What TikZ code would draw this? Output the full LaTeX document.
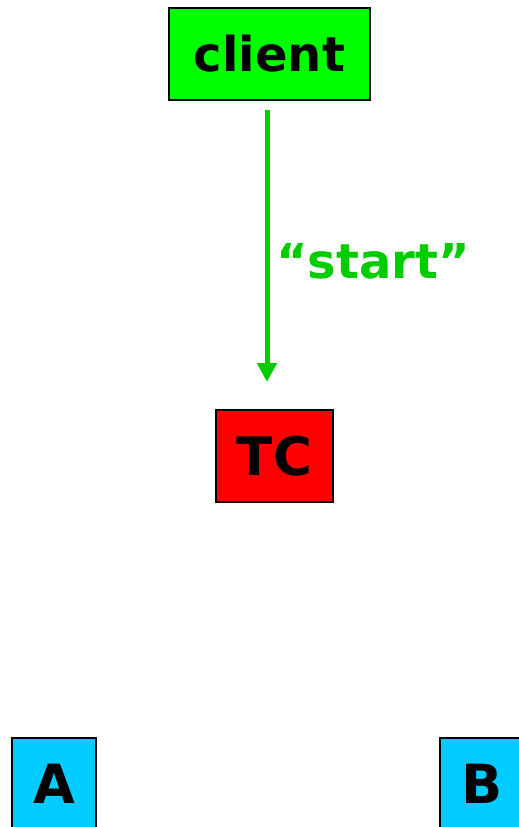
\documentclass[tikz,border=0pt]{standalone}
\usepackage{fontspec}
\setmainfont{DejaVu Sans}
\usetikzlibrary{arrows.meta}
\definecolor{boxgreen}{HTML}{00FF00}
\definecolor{boxred}{HTML}{FF0000}
\definecolor{boxcyan}{HTML}{00CCFF}
\definecolor{msggreen}{HTML}{00CC00}
\begin{document}
\begin{tikzpicture}[x=1pt,y=1pt,
  box/.style={draw=black,line width=2pt,inner sep=0pt,font=\bfseries},
  msg/.style={draw=msggreen,line width=5pt,-{Triangle[width=19pt,length=19pt]}}]
\useasboundingbox (0,0) rectangle (519,-827);
\node[box,fill=boxgreen,minimum width=201pt,minimum height=92pt,font=\bfseries\fontsize{48}{54}\selectfont] (client) at (269.5,-54) {client};
\node[box,fill=boxred,minimum width=117pt,minimum height=92pt,font=\bfseries\fontsize{53}{60}\selectfont] (tc) at (274.5,-456) {TC};
\node[box,fill=boxcyan,minimum width=84pt,minimum height=92pt,font=\bfseries\fontsize{54}{60}\selectfont] (a) at (54,-784) {A};
\node[box,fill=boxcyan,minimum width=84pt,minimum height=92pt,font=\bfseries\fontsize{54}{60}\selectfont] (b) at (482,-784) {B};
\coordinate (s) at (267,-110);
\coordinate (e) at (267,-382);
\draw[msg] (s) -- (e);
\node[anchor=west,inner sep=0pt,text=msggreen,font=\bfseries\fontsize{48}{54}\selectfont] (lbl) at (276,-261) {“start”};
\end{tikzpicture}
\end{document}
